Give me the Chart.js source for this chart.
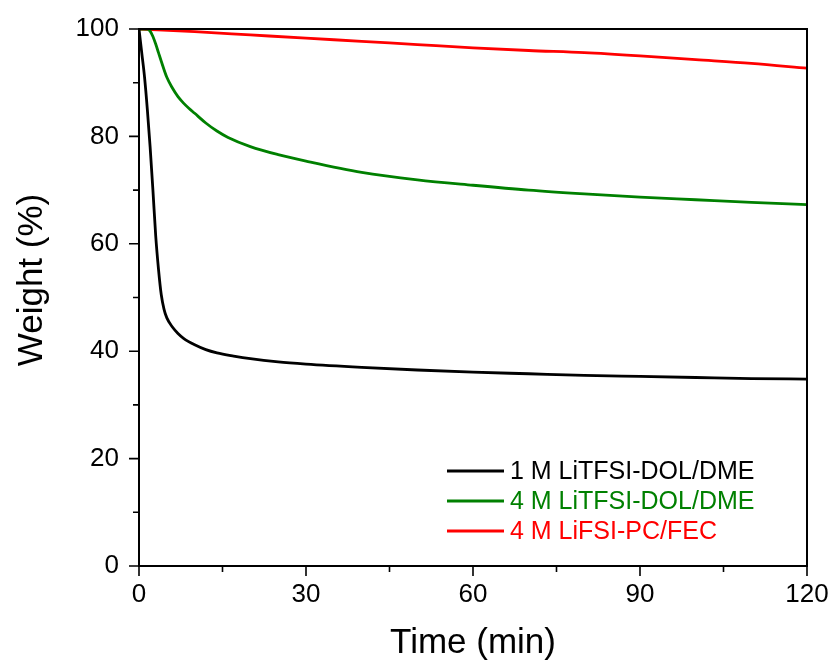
<!DOCTYPE html>
<html>
<head>
<meta charset="utf-8">
<title>TGA weight loss</title>
<script src="https://cdn.jsdelivr.net/npm/chart.js@4.4.1/dist/chart.umd.min.js"></script>
<style>
  html, body { margin: 0; padding: 0; background: #fff; }
  #wrap { width: 834px; height: 664px; position: relative; }
</style>
</head>
<body>
<div id="wrap"><canvas id="tga"></canvas></div>
<script>
// ---------- data ----------
const seriesLabels = ['1 M LiTFSI-DOL/DME', '4 M LiTFSI-DOL/DME', '4 M LiFSI-PC/FEC'];
const seriesColors = ['#000000', '#008000', '#ff0000'];

const timeBlack = [0, 0.5, 1, 1.5, 2, 2.5, 3, 3.5, 4, 4.5, 5, 6, 7, 8, 10, 12, 14, 17, 20, 25, 30, 40, 50, 60, 70, 80, 90, 100, 110, 120];
const weightBlack = [100, 95.5, 91, 85, 78, 70, 61.5, 55.3, 50.5, 47.8, 46.2, 44.5, 43.3, 42.4, 41.2, 40.3, 39.7, 39.1, 38.6, 38.0, 37.6, 37.0, 36.5, 36.1, 35.8, 35.5, 35.3, 35.1, 34.9, 34.8];

const timeGreen = [0, 1.5, 2, 2.5, 3, 3.5, 4, 5, 6, 7, 8, 9, 10, 12, 14, 16, 20, 25, 30, 40, 50, 60, 70, 80, 90, 100, 110, 120];
const weightGreen = [100, 100, 99.6, 98.6, 97.2, 95.6, 94.0, 91.0, 89.0, 87.4, 86.2, 85.2, 84.3, 82.5, 81.0, 79.8, 78.1, 76.6, 75.4, 73.3, 71.9, 70.9, 70.0, 69.3, 68.7, 68.2, 67.7, 67.3];

const timeRed = [0, 10, 20, 30, 40, 50, 60, 70, 80, 90, 100, 110, 120];
const weightRed = [100, 99.5, 98.9, 98.3, 97.7, 97.1, 96.5, 96.0, 95.6, 95.0, 94.3, 93.6, 92.7];

// tick values
const xMajorTicks = [0, 30, 60, 90, 120];
const xMinorTicks = [15, 45, 75, 105];
const yMajorTicks = [0, 20, 40, 60, 80, 100];
const yMinorTicks = [10, 30, 50, 70, 90];

const xTitle = 'Time (min)';
const yTitle = 'Weight (%)';

// ---------- helpers ----------
const FONT = '"Liberation Sans", Arial, sans-serif';

function toPoints(xs, ys) {
    return xs.map((x, i) => ({ x: x, y: ys[i] }));
}

// frame, tick marks, axis titles and the in-plot legend
const framePlugin = {
    id: 'frame',
    afterDraw(chart) {
        const { ctx, chartArea: a, scales } = chart;
        const xs = scales.x, ys = scales.y;
        ctx.save();
        ctx.strokeStyle = '#000';
        ctx.lineWidth = 2;
        ctx.strokeRect(a.left, a.top, a.right - a.left, a.bottom - a.top);

        ctx.lineWidth = 1.6;
        ctx.beginPath();
        xMajorTicks.forEach(v => { const p = xs.getPixelForValue(v); ctx.moveTo(p, a.bottom); ctx.lineTo(p, a.bottom + 10); });
        xMinorTicks.forEach(v => { const p = xs.getPixelForValue(v); ctx.moveTo(p, a.bottom); ctx.lineTo(p, a.bottom + 6); });
        yMajorTicks.forEach(v => { const p = ys.getPixelForValue(v); ctx.moveTo(a.left, p); ctx.lineTo(a.left - 10, p); });
        yMinorTicks.forEach(v => { const p = ys.getPixelForValue(v); ctx.moveTo(a.left, p); ctx.lineTo(a.left - 6, p); });
        ctx.stroke();

        // axis titles
        ctx.fillStyle = '#000';
        ctx.font = '35px ' + FONT;
        ctx.textAlign = 'center';
        ctx.textBaseline = 'alphabetic';
        ctx.fillText(xTitle, (a.left + a.right) / 2, 653);
        ctx.save();
        ctx.translate(42, 280);
        ctx.rotate(-Math.PI / 2);
        ctx.fillText(yTitle, 0, 0);
        ctx.restore();

        // legend
        ctx.font = '25px ' + FONT;
        ctx.textAlign = 'left';
        ctx.textBaseline = 'middle';
        chart.data.datasets.forEach((ds, i) => {
            const y = 471 + i * 30;
            ctx.strokeStyle = ds.borderColor;
            ctx.lineWidth = 3;
            ctx.beginPath();
            ctx.moveTo(447, y);
            ctx.lineTo(504, y);
            ctx.stroke();
            ctx.fillStyle = ds.borderColor;
            ctx.fillText(ds.label, 510, y + 1);
        });
        ctx.restore();
    }
};

const pointSets = [toPoints(timeBlack, weightBlack), toPoints(timeGreen, weightGreen), toPoints(timeRed, weightRed)];

new Chart(document.getElementById('tga'), {
    type: 'line',
    data: {
        datasets: pointSets.map((pts, i) => ({
            label: seriesLabels[i],
            data: pts,
            borderColor: seriesColors[i],
            backgroundColor: seriesColors[i],
            borderWidth: 2.8,
            pointRadius: 0,
            cubicInterpolationMode: 'monotone',
            fill: false
        }))
    },
    options: {
        responsive: true,
        maintainAspectRatio: false,
        animation: false,
        layout: { padding: { left: 0, top: 29, right: 27, bottom: 0 } },
        plugins: { legend: { display: false }, tooltip: { enabled: false } },
        scales: {
            x: {
                type: 'linear',
                min: 0,
                max: 120,
                afterFit: s => { s.height = 98; },
                afterBuildTicks: s => { s.ticks = xMajorTicks.map(v => ({ value: v })); },
                grid: { display: true, drawOnChartArea: false, drawTicks: true, tickLength: 10, color: 'transparent' },
                border: { display: false },
                ticks: { color: '#000', font: { family: FONT, size: 26 }, padding: 3, maxRotation: 0 }
            },
            y: {
                type: 'linear',
                min: 0,
                max: 100,
                afterFit: s => { s.width = 139; },
                afterBuildTicks: s => { s.ticks = yMajorTicks.map(v => ({ value: v })); },
                grid: { display: true, drawOnChartArea: false, drawTicks: true, tickLength: 10, color: 'transparent' },
                border: { display: false },
                ticks: { color: '#000', font: { family: FONT, size: 26 }, padding: 10 }
            }
        }
    },
    plugins: [framePlugin]
});
</script>
</body>
</html>
